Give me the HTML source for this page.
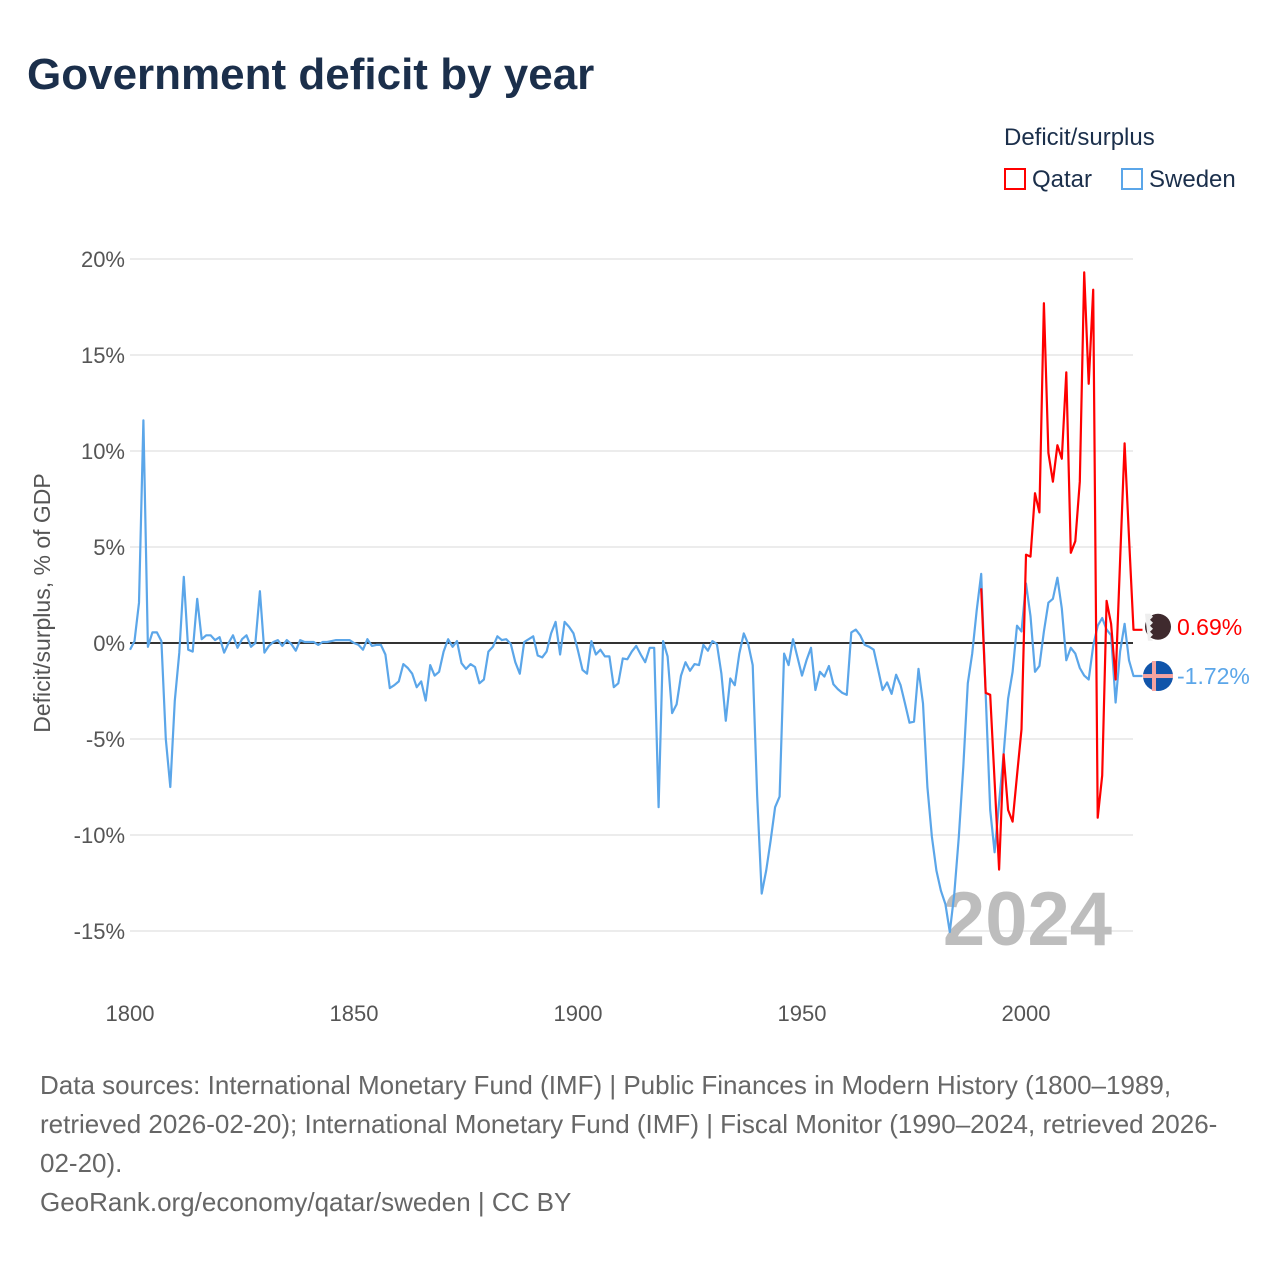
<!DOCTYPE html>
<html><head><meta charset="utf-8"><style>
html,body{margin:0;padding:0;background:#fff}
body{width:1280px;height:1280px;position:relative;font-family:"Liberation Sans",sans-serif;overflow:hidden}
.t{position:absolute;white-space:nowrap}
</style></head><body>
<div class="t" style="left:27px;top:50px;font-size:44px;font-weight:bold;color:#1b2f4b">Government deficit by year</div>
<div class="t" style="left:1004px;top:124px;font-size:24px;color:#1b2f4b">Deficit/surplus</div>
<div class="t" style="left:1004px;top:166px;font-size:24px;color:#1b2f4b"><span style="display:inline-block;width:22px;height:22px;border:2px solid #f00;box-sizing:border-box;vertical-align:-3px;margin-right:6px"></span>Qatar</div>
<div class="t" style="left:1121px;top:166px;font-size:24px;color:#1b2f4b"><span style="display:inline-block;width:22px;height:22px;border:2px solid #5ba6e9;box-sizing:border-box;vertical-align:-3px;margin-right:6px"></span>Sweden</div>
<svg id="chart" width="1280" height="1280" style="position:absolute;left:0;top:0" xmlns="http://www.w3.org/2000/svg"></svg>
<div class="t" style="left:40px;top:1066px;font-size:26px;line-height:39px;color:#666">Data sources: International Monetary Fund (IMF) | Public Finances in Modern History (1800–1989,<br>retrieved 2026-02-20); International Monetary Fund (IMF) | Fiscal Monitor (1990–2024, retrieved 2026-<br>02-20).<br>GeoRank.org/economy/qatar/sweden | CC BY</div>
<script>
const yTicks=[20,15,10,5,0,-5,-10,-15];
const yTickLabels=["20%","15%","10%","5%","0%","-5%","-10%","-15%"];
const xTicks=[1800,1850,1900,1950,2000];
const swedenStart=1800;
const swedenValues=[
-0.35,0.1,2.1,11.6,-0.2,0.55,0.55,0.1,-5.0,-7.5,
-3.0,-0.5,3.45,-0.35,-0.45,2.3,0.2,0.4,0.4,0.15,
0.3,-0.5,0,0.4,-0.25,0.2,0.4,-0.2,0,2.7,
-0.5,-0.15,0.05,0.15,-0.15,0.15,-0.05,-0.4,0.15,0.05,
0.05,0.05,-0.1,0.05,0.05,0.1,0.15,0.15,0.15,0.15,
0,-0.1,-0.35,0.2,-0.15,-0.1,-0.1,-0.6,-2.35,-2.2,
-2.0,-1.1,-1.3,-1.6,-2.3,-2.0,-3.0,-1.15,-1.7,-1.5,
-0.45,0.2,-0.2,0.1,-1.05,-1.35,-1.1,-1.25,-2.1,-1.9,
-0.45,-0.2,0.35,0.15,0.2,-0.05,-1.0,-1.6,0.05,0.2,
0.35,-0.65,-0.75,-0.45,0.5,1.1,-0.6,1.1,0.85,0.5,
-0.4,-1.4,-1.6,0.1,-0.6,-0.35,-0.7,-0.7,-2.3,-2.1,
-0.8,-0.85,-0.45,-0.15,-0.6,-1.0,-0.25,-0.25,-8.55,0.1,
-0.7,-3.65,-3.2,-1.7,-1.0,-1.45,-1.1,-1.15,-0.1,-0.4,
0.1,-0.05,-1.6,-4.05,-1.85,-2.2,-0.55,0.5,-0.05,-1.15,
-8.0,-13.05,-11.85,-10.3,-8.55,-8.0,-0.55,-1.15,0.2,-0.75,
-1.7,-0.9,-0.25,-2.45,-1.5,-1.75,-1.2,-2.15,-2.4,-2.6,
-2.7,0.55,0.7,0.4,-0.1,-0.2,-0.35,-1.4,-2.45,-2.05,
-2.65,-1.65,-2.2,-3.15,-4.15,-4.1,-1.35,-3.15,-7.5,-10.1,
-11.85,-12.9,-13.6,-15.05,-13.05,-10.1,-6.45,-2.1,-0.55,1.7,
3.6,-2.7,-8.7,-10.9,-8.3,-5.8,-2.9,-1.5,0.9,0.6,
3.1,1.4,-1.5,-1.2,0.6,2.1,2.3,3.4,1.8,-0.9,
-0.25,-0.55,-1.3,-1.7,-1.9,-0.15,0.9,1.3,0.7,0.4,
-3.1,-0.45,1.0,-0.9,-1.72];
const qatarStart=1990;
const qatarValues=[2.85,-2.6,-2.7,-7.2,-11.8,-5.8,-8.7,-9.3,-6.9,-4.5,
4.6,4.5,7.8,6.8,17.7,9.9,8.4,10.3,9.6,14.1,
4.7,5.3,8.4,19.3,13.5,18.4,-9.1,-6.9,2.2,1.0,
-1.9,4.3,10.4,5.5,0.69];
const endLabels=["0.69%","-1.72%"];

const NS="http://www.w3.org/2000/svg";
const svg=document.getElementById('chart');
const X=y=>130+(y-1800)*4.48;
const Y=v=>643-v*19.2;
function mk(t,a){const e=document.createElementNS(NS,t);for(const k in a)e.setAttribute(k,a[k]);svg.appendChild(e);return e;}
yTicks.forEach((v,i)=>{
  const g=mk('line',{x1:130,x2:1133,y1:Y(v),y2:Y(v),stroke:'#e6e6e6','stroke-width':1.5});
  
  
  const t=mk('text',{x:125,y:Y(v)+8,'text-anchor':'end','font-size':22,fill:'#555','font-family':'Liberation Sans'});
  t.textContent=yTickLabels[i];
  
  
});
xTicks.forEach(v=>{
  const t=mk('text',{x:X(v),y:1021,'text-anchor':'middle','font-size':22,fill:'#555','font-family':'Liberation Sans'});
  t.textContent=v;
  
  
});
const yt=mk('text',{x:0,y:0,transform:'translate(50,603) rotate(-90)','text-anchor':'middle','font-size':23,fill:'#555','font-family':'Liberation Sans'});
yt.textContent='Deficit/surplus, % of GDP';


const yr=mk('text',{x:1112,y:945,'text-anchor':'end','font-size':76,'font-weight':'bold',fill:'#bdbdbd','font-family':'Liberation Sans'});
yr.textContent='2024';


const zl=mk('line',{x1:130,x2:1133,y1:Y(0),y2:Y(0),stroke:'#333','stroke-width':2});


function series(vals,start,color,name){
  const pts=vals.map((v,i)=>X(start+i).toFixed(1)+','+Y(v).toFixed(1));
  const lastX=X(start+vals.length-1),lastY=Y(vals[vals.length-1]);
  pts.push((lastX+9)+','+lastY.toFixed(1));
  const p=mk('polyline',{points:pts.join(' '),fill:'none',stroke:color,'stroke-width':2.2,'stroke-linejoin':'round'});
  
  
  return lastY;
}
const sy=series(swedenValues,swedenStart,'#5ba6e9','sweden-line');
const qy=series(qatarValues,qatarStart,'#ff0000','qatar-line');
const qc=mk('circle',{cx:1158,cy:qy-3,r:13,fill:'#3f2a2e'});


const qw=mk('path',{d:`M1145,${qy-16} h5 l3,3 l-3,3 l3,3 l-3,3 l3,3 l-3,3 l3,3 l-3,3 l3,3 h-5 z`,fill:'#eee'});


const ql=mk('text',{x:1177,y:qy+5,'font-size':23,fill:'#ff0000','font-family':'Liberation Sans'});
ql.textContent=endLabels[0];


const sc=mk('circle',{cx:1158,cy:sy,r:15,fill:'#1155aa'});


const s1=mk('rect',{x:1152,y:sy-15,width:4,height:30,fill:'#f4a3a0'});


const s2=mk('rect',{x:1143,y:sy-2,width:30,height:4,fill:'#f4a3a0'});


const sl=mk('text',{x:1177,y:sy+8,'font-size':23,fill:'#5ba6e9','font-family':'Liberation Sans'});
sl.textContent=endLabels[1];


</script>
</body></html>
